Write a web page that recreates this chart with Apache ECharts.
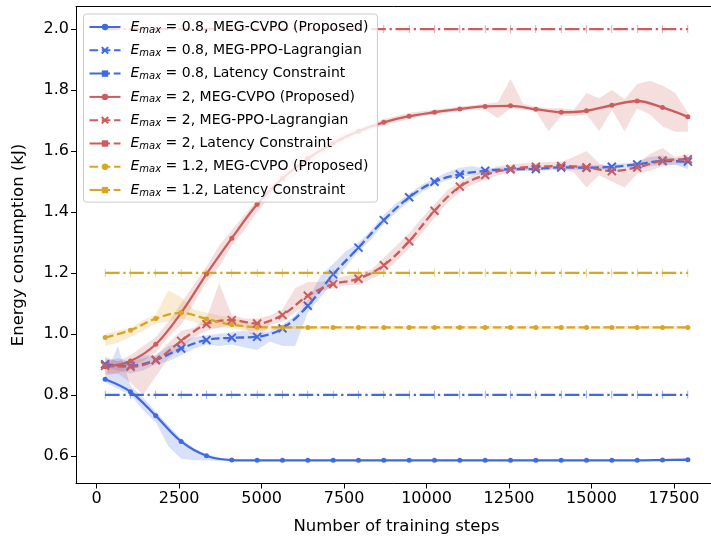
<!DOCTYPE html>
<html>
<head>
<meta charset="utf-8">
<script src="https://cdn.jsdelivr.net/npm/echarts@6/dist/echarts.min.js"></script>
<style>
html,body{margin:0;padding:0;background:#fff;overflow:hidden;}
#c{width:711px;height:538px;}
</style>
</head>
<body>
<div id="c"></div>
<script>
// ---------- data ----------
const steps = [256, 1024, 1792, 2560, 3328, 4096, 4864, 5632, 6400, 7168, 7936, 8704, 9472, 10240, 11008, 11776, 12544, 13312, 14080, 14848, 15616, 16384, 17152, 17920];

const cvpo08 = [0.851, 0.810, 0.731, 0.647, 0.600, 0.586, 0.585, 0.585, 0.585, 0.585, 0.585, 0.585, 0.585, 0.585, 0.585, 0.585, 0.585, 0.585, 0.585, 0.585, 0.585, 0.585, 0.586, 0.587];
const ppo08 = [0.900, 0.895, 0.914, 0.952, 0.980, 0.987, 0.990, 1.018, 1.092, 1.195, 1.283, 1.373, 1.448, 1.499, 1.523, 1.535, 1.540, 1.541, 1.546, 1.545, 1.548, 1.556, 1.567, 1.565];
const lat08 = [0.8, 0.8, 0.8, 0.8, 0.8, 0.8, 0.8, 0.8, 0.8, 0.8, 0.8, 0.8, 0.8, 0.8, 0.8, 0.8, 0.8, 0.8, 0.8, 0.8, 0.8, 0.8, 0.8, 0.8];
const cvpo2 = [0.892, 0.911, 0.966, 1.069, 1.196, 1.314, 1.425, 1.510, 1.575, 1.625, 1.665, 1.694, 1.714, 1.727, 1.738, 1.746, 1.748, 1.737, 1.727, 1.732, 1.750, 1.764, 1.743, 1.712];
const ppo2 = [0.895, 0.892, 0.914, 0.977, 1.032, 1.045, 1.034, 1.062, 1.125, 1.163, 1.181, 1.225, 1.304, 1.404, 1.483, 1.521, 1.541, 1.548, 1.551, 1.546, 1.534, 1.546, 1.568, 1.573];
const lat2 = [2.0, 2.0, 2.0, 2.0, 2.0, 2.0, 2.0, 2.0, 2.0, 2.0, 2.0, 2.0, 2.0, 2.0, 2.0, 2.0, 2.0, 2.0, 2.0, 2.0, 2.0, 2.0, 2.0, 2.0];
const cvpo12 = [0.988, 1.012, 1.050, 1.069, 1.049, 1.030, 1.022, 1.021, 1.021, 1.021, 1.021, 1.021, 1.021, 1.021, 1.021, 1.021, 1.021, 1.021, 1.021, 1.021, 1.021, 1.021, 1.021, 1.021];
const lat12 = [1.2, 1.2, 1.2, 1.2, 1.2, 1.2, 1.2, 1.2, 1.2, 1.2, 1.2, 1.2, 1.2, 1.2, 1.2, 1.2, 1.2, 1.2, 1.2, 1.2, 1.2, 1.2, 1.2, 1.2];

// shaded spread bands (finer step grid)
const bandSteps = [256, 640, 1024, 1408, 1792, 2176, 2560, 2944, 3328, 3712, 4096, 4480, 4864, 5248, 5632, 6016, 6400, 6784, 7168, 7552, 7936, 8320, 8704, 9088, 9472, 9856, 10240, 10624, 11008, 11392, 11776, 12160, 12544, 12928, 13312, 13696, 14080, 14464, 14848, 15232, 15616, 16000, 16384, 16768, 17152, 17536, 17920];

const cvpo08Lo = [0.84, 0.82, 0.80, 0.75, 0.71, 0.63, 0.59, 0.585, 0.585, 0.584, 0.583, 0.583, 0.583, 0.583, 0.583, 0.583, 0.583, 0.583, 0.583, 0.583, 0.583, 0.583, 0.583, 0.583, 0.583, 0.583, 0.583, 0.583, 0.583, 0.583, 0.583, 0.583, 0.583, 0.583, 0.583, 0.583, 0.583, 0.583, 0.583, 0.583, 0.583, 0.583, 0.583, 0.583, 0.583, 0.583, 0.584];
const cvpo08Hi = [0.86, 0.96, 0.83, 0.79, 0.745, 0.70, 0.655, 0.625, 0.605, 0.594, 0.588, 0.588, 0.588, 0.588, 0.588, 0.588, 0.588, 0.588, 0.588, 0.588, 0.588, 0.588, 0.588, 0.588, 0.588, 0.588, 0.588, 0.588, 0.588, 0.588, 0.588, 0.588, 0.588, 0.588, 0.588, 0.588, 0.588, 0.588, 0.588, 0.588, 0.588, 0.588, 0.588, 0.588, 0.588, 0.588, 0.590];

const ppo08Lo = [0.89, 0.88, 0.87, 0.88, 0.90, 0.91, 0.93, 0.95, 0.965, 0.96, 0.965, 0.955, 0.947, 0.975, 0.96, 0.96, 1.07, 1.12, 1.17, 1.22, 1.27, 1.31, 1.36, 1.40, 1.435, 1.465, 1.49, 1.505, 1.515, 1.52, 1.528, 1.531, 1.533, 1.534, 1.534, 1.537, 1.539, 1.538, 1.537, 1.538, 1.540, 1.544, 1.545, 1.55, 1.555, 1.555, 1.54];
const ppo08Hi = [0.91, 0.92, 0.91, 0.93, 0.93, 0.96, 0.97, 0.99, 0.995, 1.00, 1.005, 1.01, 1.00, 1.01, 1.03, 1.06, 1.11, 1.19, 1.23, 1.27, 1.30, 1.34, 1.39, 1.43, 1.46, 1.49, 1.51, 1.53, 1.545, 1.55, 1.542, 1.545, 1.547, 1.548, 1.548, 1.551, 1.553, 1.554, 1.553, 1.554, 1.556, 1.56, 1.565, 1.58, 1.585, 1.575, 1.575];

const cvpo2Lo = [0.865, 0.87, 0.89, 0.91, 0.94, 0.99, 1.03, 1.10, 1.17, 1.22, 1.29, 1.34, 1.40, 1.45, 1.49, 1.52, 1.555, 1.585, 1.61, 1.635, 1.655, 1.67, 1.685, 1.695, 1.705, 1.715, 1.72, 1.725, 1.73, 1.735, 1.735, 1.707, 1.74, 1.735, 1.73, 1.665, 1.715, 1.715, 1.72, 1.665, 1.735, 1.665, 1.74, 1.72, 1.68, 1.663, 1.663];
const cvpo2Hi = [0.925, 0.91, 0.93, 0.96, 0.99, 1.04, 1.10, 1.16, 1.22, 1.29, 1.34, 1.39, 1.44, 1.49, 1.53, 1.58, 1.60, 1.62, 1.64, 1.66, 1.675, 1.69, 1.705, 1.715, 1.725, 1.73, 1.735, 1.74, 1.745, 1.75, 1.755, 1.76, 1.836, 1.755, 1.745, 1.74, 1.74, 1.735, 1.79, 1.773, 1.80, 1.77, 1.82, 1.83, 1.815, 1.79, 1.725];

const ppo2Lo = [0.87, 0.87, 0.84, 0.80, 0.86, 0.92, 0.95, 0.99, 1.01, 1.02, 1.03, 1.02, 0.98, 1.03, 1.04, 1.07, 1.10, 1.14, 1.15, 1.16, 1.16, 1.18, 1.20, 1.24, 1.28, 1.33, 1.38, 1.43, 1.465, 1.49, 1.505, 1.52, 1.53, 1.535, 1.54, 1.54, 1.54, 1.53, 1.48, 1.52, 1.50, 1.48, 1.525, 1.535, 1.55, 1.555, 1.56];
const ppo2Hi = [0.92, 0.91, 0.91, 0.92, 0.93, 0.97, 1.01, 1.02, 1.05, 1.167, 1.06, 1.05, 1.05, 1.06, 1.08, 1.15, 1.17, 1.17, 1.18, 1.19, 1.20, 1.21, 1.25, 1.29, 1.33, 1.38, 1.425, 1.47, 1.50, 1.52, 1.535, 1.55, 1.555, 1.56, 1.56, 1.565, 1.565, 1.58, 1.60, 1.56, 1.545, 1.54, 1.56, 1.59, 1.61, 1.58, 1.59];

const cvpo12Lo = [0.96, 0.97, 0.99, 1.01, 1.035, 1.04, 1.05, 1.04, 1.02, 1.02, 1.02, 1.01, 1.01, 1.012, 1.016, 1.016, 1.016, 1.016, 1.016, 1.016, 1.016, 1.016, 1.016, 1.016, 1.016, 1.016, 1.016, 1.016, 1.016, 1.016, 1.016, 1.016, 1.016, 1.016, 1.016, 1.016, 1.016, 1.016, 1.016, 1.016, 1.016, 1.016, 1.016, 1.016, 1.016, 1.016, 1.016];
const cvpo12Hi = [1.00, 1.01, 1.02, 1.045, 1.065, 1.143, 1.12, 1.08, 1.07, 1.06, 1.055, 1.04, 1.035, 1.03, 1.026, 1.026, 1.026, 1.026, 1.026, 1.026, 1.026, 1.026, 1.026, 1.026, 1.026, 1.026, 1.026, 1.026, 1.026, 1.026, 1.026, 1.026, 1.026, 1.026, 1.026, 1.026, 1.026, 1.026, 1.026, 1.026, 1.026, 1.026, 1.026, 1.026, 1.026, 1.026, 1.026];

const xTicks = [0, 2500, 5000, 7500, 10000, 12500, 15000, 17500];
const yTicks = [0.6, 0.8, 1.0, 1.2, 1.4, 1.6, 1.8, 2.0];

const seriesNames = [
  '0.8, MEG-CVPO (Proposed)',
  '0.8, MEG-PPO-Lagrangian',
  '0.8, Latency Constraint',
  '2, MEG-CVPO (Proposed)',
  '2, MEG-PPO-Lagrangian',
  '2, Latency Constraint',
  '1.2, MEG-CVPO (Proposed)',
  '1.2, Latency Constraint'
];

// ---------- styling ----------
const BLUE = '#4169E1', RED = '#CD5C5C', GOLD = '#DAA520';
const FONT = 'DejaVu Sans';
const LW = 2.3;
const DASH = [8.6, 3.7];
const DASHDOT = [14.5, 3.7, 2.3, 3.7];
const XSYM = 'path://M0,0L10,10M10,0L0,10';
const TICKSYM = 'path://M0,0h2v8h-2z';
const X_MIN = -627, X_MAX = 18803;

function pairs(xs, ys) { return xs.map((x, i) => [x, ys[i]]); }

function band(xs, lo, hi, fill) {
  return {
    type: 'custom',
    silent: true,
    z: 1,
    clip: true,
    data: [[xs[0], lo[0]]],
    renderItem: function (params, api) {
      const pts = [];
      for (let k = 0; k < xs.length; k++) pts.push(api.coord([xs[k], hi[k]]));
      for (let k = xs.length - 1; k >= 0; k--) pts.push(api.coord([xs[k], lo[k]]));
      return { type: 'polygon', shape: { points: pts }, style: { fill: fill } };
    }
  };
}

function cvpoLine(name, ys, color) {
  return {
    type: 'line', name: name, data: pairs(steps, ys), z: 3,
    smooth: 0.35, symbol: 'circle', symbolSize: 5, showSymbol: true,
    lineStyle: { color: color, width: LW, type: name.startsWith('1.2') ? DASH : 'solid' },
    itemStyle: { color: color, borderWidth: 0 }
  };
}
function ppoLine(name, ys, color) {
  return {
    type: 'line', name: name, data: pairs(steps, ys), z: 3,
    smooth: 0.35, symbol: XSYM, symbolSize: 8,
    lineStyle: { color: color, width: LW, type: DASH },
    itemStyle: { color: color, borderColor: color, borderWidth: 2 }
  };
}
function latLine(name, ys, color) {
  return {
    type: 'line', name: name, data: pairs(steps, ys), z: 3,
    symbol: TICKSYM, symbolSize: [2, 8], symbolKeepAspect: true,
    lineStyle: { color: color, width: LW, type: DASHDOT },
    itemStyle: { color: color, borderWidth: 0 }
  };
}

const chart = echarts.init(document.getElementById('c'), null, { renderer: 'canvas', width: 711, height: 538 });

const option = {
  animation: false,
  backgroundColor: '#fff',
  grid: { left: 76, top: 6.5, width: 641, height: 477, outerBoundsMode: 'none', containLabel: false, show: false },
  xAxis: [{
    type: 'value', min: X_MIN, max: X_MAX, position: 'bottom',
    axisLine: { show: true, onZero: false, lineStyle: { color: '#000', width: 1 } },
    axisTick: { show: true, length: 5, customValues: xTicks, lineStyle: { color: '#000', width: 1 } },
    axisLabel: { customValues: xTicks, fontSize: 16, fontFamily: FONT, color: '#000', margin: 7, formatter: v => String(v) },
    splitLine: { show: false },
    name: 'Number of training steps', nameLocation: 'middle', nameGap: 35,
    nameTextStyle: { fontSize: 16.5, fontFamily: FONT, color: '#000' }
  }, {
    type: 'value', min: X_MIN, max: X_MAX, position: 'top',
    axisLine: { show: true, onZero: false, lineStyle: { color: '#000', width: 1 } },
    axisTick: { show: false }, axisLabel: { show: false }, splitLine: { show: false }
  }],
  yAxis: {
    type: 'value', min: 0.509, max: 2.074,
    axisLine: { show: true, onZero: false, lineStyle: { color: '#000', width: 1 } },
    axisTick: { show: true, length: 5, customValues: yTicks, lineStyle: { color: '#000', width: 1 } },
    axisLabel: { customValues: yTicks, fontSize: 16, fontFamily: FONT, color: '#000', margin: 7, formatter: v => v.toFixed(1) },
    splitLine: { show: false },
    name: 'Energy consumption (kJ)', nameLocation: 'middle', nameGap: 49, nameRotate: 90,
    nameTextStyle: { fontSize: 16.5, fontFamily: FONT, color: '#000' }
  },
  legend: {
    data: seriesNames,
    orient: 'vertical', left: 83.5, top: 14,
    itemWidth: 31, itemHeight: 8, itemGap: 7.3,
    padding: [5, 9, 4, 5],
    backgroundColor: 'rgba(255,255,255,0.8)', borderColor: '#cccccc', borderWidth: 1, borderRadius: 3,
    formatter: function (name) { return '{i|E}{s|max}{t| = ' + name + '}'; },
    textStyle: {
      fontFamily: FONT, fontSize: 14, color: '#000', padding: [0, 0, 0, 5],
      rich: {
        i: { fontFamily: FONT, fontSize: 14, fontStyle: 'italic', lineHeight: 16, color: '#000' },
        s: { fontFamily: FONT, fontSize: 10, fontStyle: 'italic', lineHeight: 10, verticalAlign: 'bottom', color: '#000', padding: [6, 0, 0, 0] },
        t: { fontFamily: FONT, fontSize: 14, lineHeight: 16, color: '#000' }
      }
    }
  },
  series: [
    band(bandSteps, cvpo08Lo, cvpo08Hi, 'rgba(65,105,225,0.2)'),
    band(bandSteps, ppo08Lo, ppo08Hi, 'rgba(65,105,225,0.2)'),
    band(bandSteps, cvpo2Lo, cvpo2Hi, 'rgba(205,92,92,0.2)'),
    band(bandSteps, ppo2Lo, ppo2Hi, 'rgba(205,92,92,0.2)'),
    band(bandSteps, cvpo12Lo, cvpo12Hi, 'rgba(218,165,32,0.2)'),
    cvpoLine(seriesNames[0], cvpo08, BLUE),
    ppoLine(seriesNames[1], ppo08, BLUE),
    latLine(seriesNames[2], lat08, BLUE),
    cvpoLine(seriesNames[3], cvpo2, RED),
    ppoLine(seriesNames[4], ppo2, RED),
    latLine(seriesNames[5], lat2, RED),
    cvpoLine(seriesNames[6], cvpo12, GOLD),
    latLine(seriesNames[7], lat12, GOLD)
  ]
};
chart.setOption(option);
</script>
</body>
</html>
